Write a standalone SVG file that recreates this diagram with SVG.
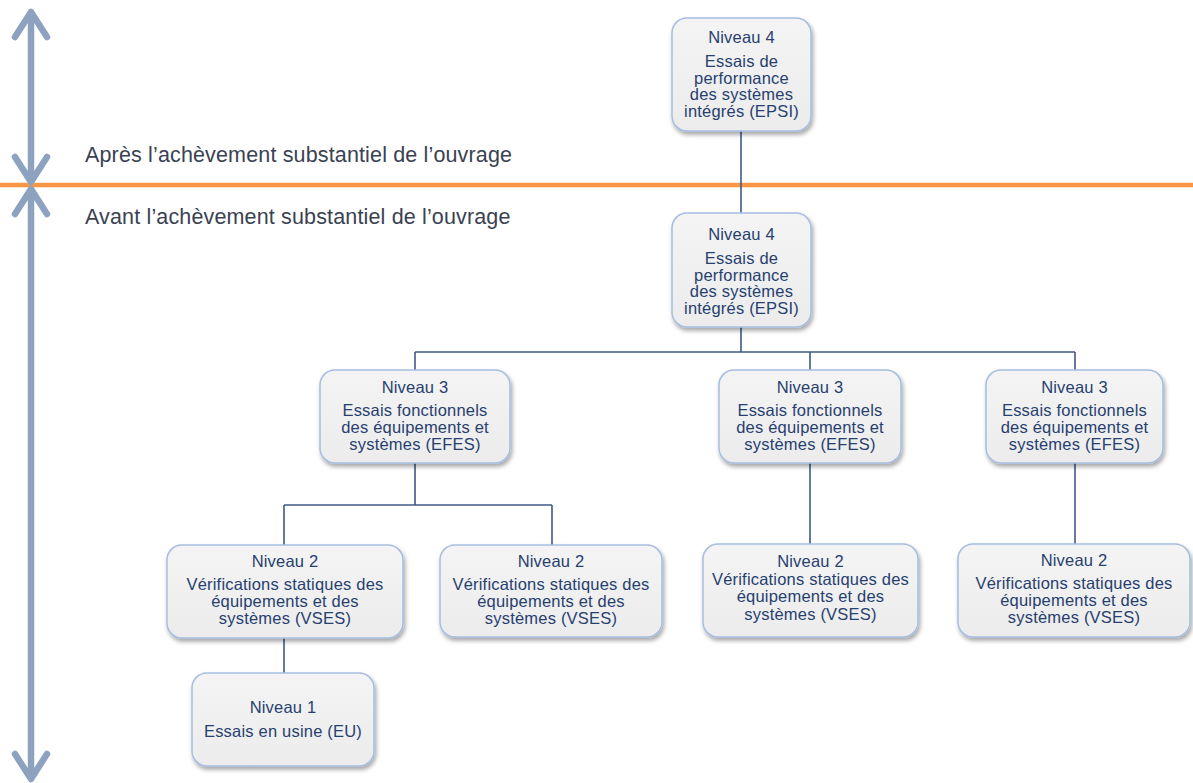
<svg xmlns="http://www.w3.org/2000/svg" width="1193" height="783" viewBox="0 0 1193 783">
<defs>
<filter id="sh" x="-10%" y="-10%" width="125%" height="130%">
<feDropShadow dx="1.5" dy="3" stdDeviation="2" flood-color="#000" flood-opacity="0.35"/>
</filter>
<linearGradient id="g" x1="0" y1="0" x2="0" y2="1">
<stop offset="0" stop-color="#f4f4f4"/>
<stop offset="1" stop-color="#ececec"/>
</linearGradient>
</defs>
<style>
.box{fill:url(#g);stroke:#a7bde0;stroke-width:1.5;filter:url(#sh)}
.t{font-family:"Liberation Sans",Arial,sans-serif;font-size:16.5px;letter-spacing:0.2px;fill:#27406f;text-anchor:middle}
.h{font-family:"Liberation Sans",Arial,sans-serif;font-size:21.5px;letter-spacing:0.15px;fill:#3a4252}
.c{fill:none;stroke:#3f5a86;stroke-width:1.6}
.ar{fill:none;stroke:#8ca2bf;stroke-width:6.5;stroke-linecap:round;stroke-linejoin:round}
</style>
<rect width="1193" height="783" fill="#fff"/>
<g id="scale">
<line x1="0" y1="185" x2="1193" y2="185" stroke="#f79646" stroke-width="4.5"/>
<path class="ar" d="M31 12 V181 M15 37 L31 12 L47 37 M15 157 L31 182 L47 157"/>
<path class="ar" d="M31 190 V777 M15 214 L31 189 L47 214 M15 754 L31 779 L47 754"/>
<text class="h" x="85" y="162">Après l’achèvement substantiel de l’ouvrage</text>
<text class="h" x="85" y="224">Avant l’achèvement substantiel de l’ouvrage</text>
</g>
<g id="connectors">
<path class="c" d="M741 131 V213"/>
<path class="c" d="M741 327 V352 M415 352 H1075 M415 352 V370 M810 352 V370 M1075 352 V370"/>
<path class="c" d="M415 463 V505 M284 505 H552 M284 505 V545 M552 505 V545"/>
<path class="c" d="M810 463 V545"/>
<path class="c" d="M1075 463 V545"/>
<path class="c" d="M284 638 V673"/>
</g>
<g id="n4a">
<rect class="box" x="672" y="18" width="139" height="113" rx="15"/>
<text class="t" x="741.5" y="43">Niveau 4</text>
<text class="t" x="741.5" y="67">Essais de</text>
<text class="t" x="741.5" y="84">performance</text>
<text class="t" x="741.5" y="100">des systèmes</text>
<text class="t" x="741.5" y="117">intégrés (EPSI)</text>
</g>
<g id="n4b">
<rect class="box" x="672" y="213" width="139" height="114" rx="15"/>
<text class="t" x="741.5" y="240">Niveau 4</text>
<text class="t" x="741.5" y="264">Essais de</text>
<text class="t" x="741.5" y="281">performance</text>
<text class="t" x="741.5" y="297">des systèmes</text>
<text class="t" x="741.5" y="314">intégrés (EPSI)</text>
</g>
<g id="n3a">
<rect class="box" x="320" y="370" width="190" height="93" rx="15"/>
<text class="t" x="415" y="393">Niveau 3</text>
<text class="t" x="415" y="416">Essais fonctionnels</text>
<text class="t" x="415" y="433">des équipements et</text>
<text class="t" x="415" y="450">systèmes (EFES)</text>
</g>
<g id="n3b">
<rect class="box" x="719" y="370" width="182" height="93" rx="15"/>
<text class="t" x="810" y="393">Niveau 3</text>
<text class="t" x="810" y="416">Essais fonctionnels</text>
<text class="t" x="810" y="433">des équipements et</text>
<text class="t" x="810" y="450">systèmes (EFES)</text>
</g>
<g id="n3c">
<rect class="box" x="986" y="370" width="177" height="93" rx="15"/>
<text class="t" x="1074.5" y="393">Niveau 3</text>
<text class="t" x="1074.5" y="416">Essais fonctionnels</text>
<text class="t" x="1074.5" y="433">des équipements et</text>
<text class="t" x="1074.5" y="450">systèmes (EFES)</text>
</g>
<g id="n2a">
<rect class="box" x="167" y="545" width="236" height="93" rx="15"/>
<text class="t" x="285" y="567">Niveau 2</text>
<text class="t" x="285" y="590">Vérifications statiques des</text>
<text class="t" x="285" y="607">équipements et des</text>
<text class="t" x="285" y="624">systèmes (VSES)</text>
</g>
<g id="n2b">
<rect class="box" x="440" y="545" width="222" height="92" rx="15"/>
<text class="t" x="551" y="567">Niveau 2</text>
<text class="t" x="551" y="590">Vérifications statiques des</text>
<text class="t" x="551" y="607">équipements et des</text>
<text class="t" x="551" y="624">systèmes (VSES)</text>
</g>
<g id="n2c">
<rect class="box" x="703" y="544" width="215" height="93" rx="15"/>
<text class="t" x="810.5" y="567">Niveau 2</text>
<text class="t" x="810.5" y="585">Vérifications statiques des</text>
<text class="t" x="810.5" y="602">équipements et des</text>
<text class="t" x="810.5" y="620">systèmes (VSES)</text>
</g>
<g id="n2d">
<rect class="box" x="958" y="544" width="232" height="93" rx="15"/>
<text class="t" x="1074" y="566">Niveau 2</text>
<text class="t" x="1074" y="589">Vérifications statiques des</text>
<text class="t" x="1074" y="606">équipements et des</text>
<text class="t" x="1074" y="623">systèmes (VSES)</text>
</g>
<g id="n1">
<rect class="box" x="192" y="673" width="182" height="93" rx="15"/>
<text class="t" x="283" y="713">Niveau 1</text>
<text class="t" x="283" y="737">Essais en usine (EU)</text>
</g>
</svg>
